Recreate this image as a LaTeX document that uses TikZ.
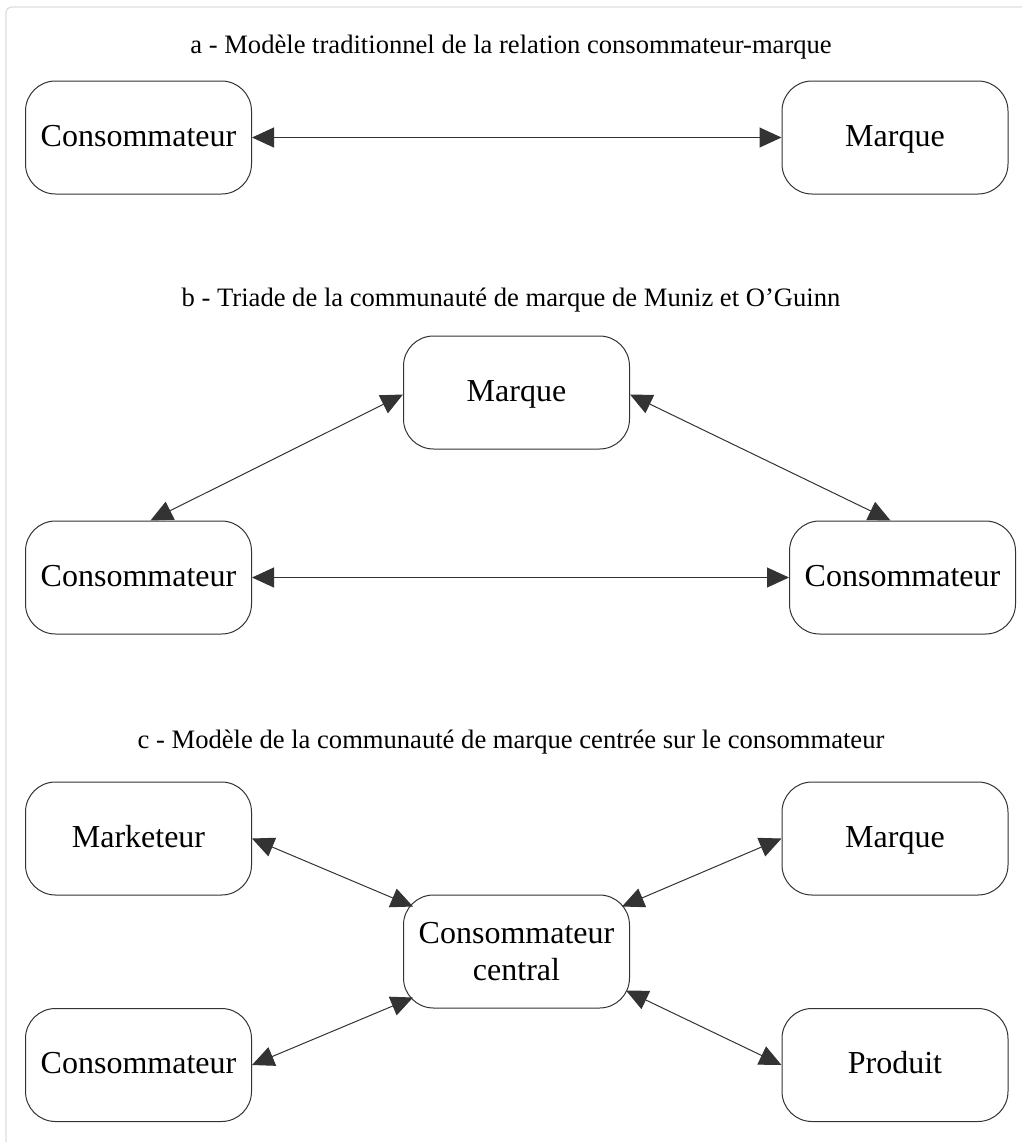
\documentclass[tikz,border=0pt]{standalone}
\usepackage{fontspec}
\setmainfont{Liberation Serif}
\usepackage{xcolor}
\usetikzlibrary{arrows.meta}
\definecolor{edge}{HTML}{333333}
\definecolor{frame}{HTML}{DDDDDD}
\definecolor{ink}{HTML}{000000}
\tikzset{
  box/.style={draw=edge, line width=0.5pt, rounded corners=15pt, minimum width=113pt, minimum height=56.5pt, align=center, text=ink, font=\fontsize{16}{18.5}\selectfont, inner sep=2pt, text height=0.87em, text depth=0pt},
  link/.style={draw=edge, line width=0.5pt, {Triangle[length=11pt,width=10pt]}-{Triangle[length=11pt,width=10pt]}},
  ttl/.style={text=ink, font=\fontsize{13.3}{16}\selectfont}
}

\begin{document}
\begin{tikzpicture}[x=0.5pt,y=-0.5pt]
  \useasboundingbox (0,0) rectangle (1022,1142);
  \clip (0,0) rectangle (1022,1142);
  \draw[frame, line width=0.6pt, rounded corners=3pt] (6,7) rectangle (1040,1160);

  % a
  \node[ttl] (tA) at (511,47) {a - Modèle traditionnel de la relation consommateur-marque};
  \node[box] (cA) at (138.5,137.5) {Consommateur};
  \node[box] (mA) at (895,137.5) {Marque};
  \draw[link] (cA) -- (mA);

  % b
  \node[ttl] (tB) at (511,300) {b - Triade de la communauté de marque de Muniz et O’Guinn};
  \node[box] (mB) at (516.5,392.5) {Marque};
  \node[box] (cB1) at (138.5,577.5) {Consommateur};
  \node[box] (cB2) at (902.5,577.5) {Consommateur};
  \draw[link] (cB1) -- (cB2);
  \draw[link] ([xshift=6pt]cB1.north) -- ([yshift=-1pt]mB.west);
  \draw[link] ([yshift=-1pt]mB.east) -- ([xshift=-6pt]cB2.north);

  % c
  \node[ttl] (tC) at (511,742) {c - Modèle de la communauté de marque centrée sur le consommateur};
  \node[box] (mk) at (138.5,838.5) {Marketeur};
  \node[box] (mC) at (895,838.5) {Marque};
  \node[box, text height={}, text depth={}] (cc) at (516.5,951.5) {Consommateur\\central};
  \node[box] (cC) at (138.5,1065) {Consommateur};
  \node[box] (pr) at (895,1065) {Produit};
  \draw[link] (mk.east) -- ([xshift=5pt,yshift=-6pt]cc.north west);
  \draw[link] (mC.west) -- ([xshift=-4pt,yshift=-6pt]cc.north east);
  \draw[link] (cC.east) -- ([xshift=5pt,yshift=5.5pt]cc.south west);
  \draw[link] (pr.west) -- ([xshift=-2pt,yshift=9pt]cc.south east);
\end{tikzpicture}
\end{document}
